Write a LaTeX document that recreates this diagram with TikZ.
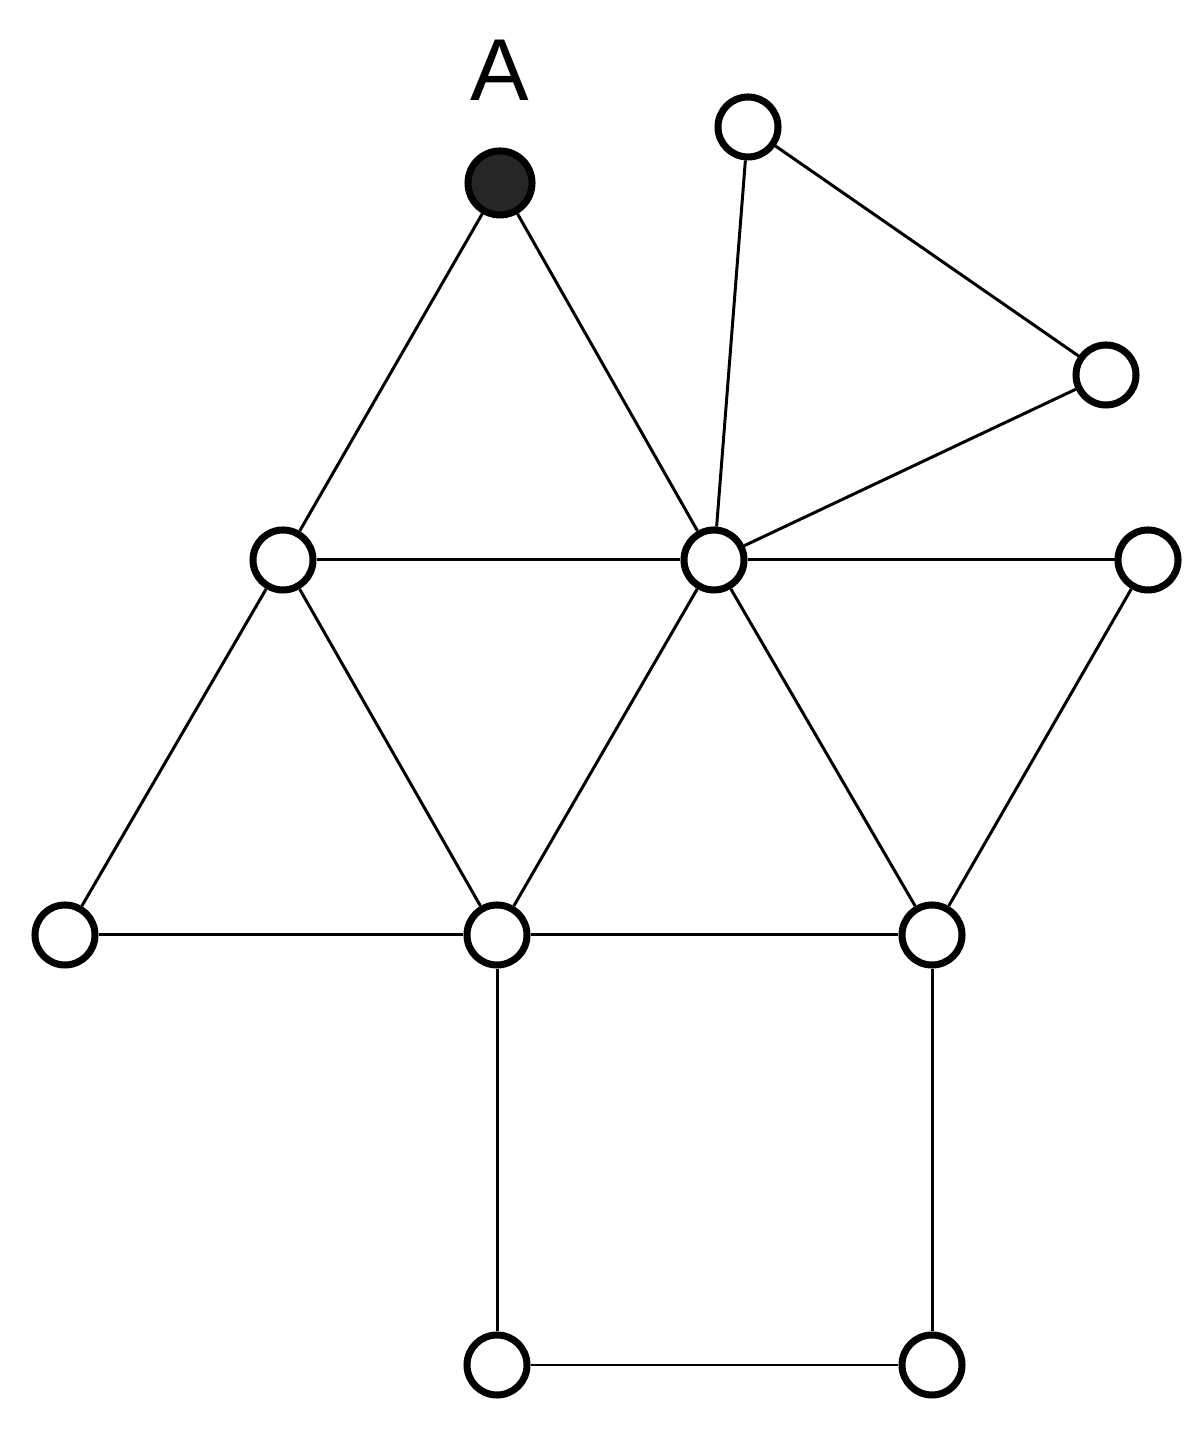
\documentclass[tikz,border=0pt]{standalone}
\usepackage{fontspec}
\setsansfont{Liberation Sans}
\usepackage{tikz}

\begin{document}
\begin{tikzpicture}[
        vertex/.style={circle,draw=black,fill=white,line width=2pt,inner sep=0pt,minimum size=0.6cm},
        source/.style={vertex,fill=black!85,minimum size=0.64cm},
        link/.style={line width=0.85pt}
    ]
            \useasboundingbox (0, 0) rectangle (12, 14.32);

            \node [source] (A) at (5.00, 12.49) {};
            \node [font=\fontsize{25}{25}\sffamily] (Alabel) at (5.00, 13.62) {A};
            \node [vertex] (top) at (7.48, 13.05) {};
            \node [vertex] (right) at (11.06, 10.57) {};
            \node [vertex] (midL) at (2.83, 8.72) {};
            \node [vertex] (midC) at (7.14, 8.72) {};
            \node [vertex] (midR) at (11.48, 8.72) {};
            \node [vertex] (botL) at (0.65, 4.97) {};
            \node [vertex] (botC) at (4.97, 4.97) {};
            \node [vertex] (botR) at (9.32, 4.97) {};
            \node [vertex] (lowL) at (4.97, 0.67) {};
            \node [vertex] (lowR) at (9.32, 0.67) {};

            \draw [link] (A) -- (midL);
            \draw [link] (A) -- (midC);
            \draw [link] (top) -- (midC);
            \draw [link] (top) -- (right);
            \draw [link] (right) -- (midC);
            \draw [link] (midL) -- (midC);
            \draw [link] (midC) -- (midR);
            \draw [link] (midL) -- (botL);
            \draw [link] (midL) -- (botC);
            \draw [link] (midC) -- (botC);
            \draw [link] (midC) -- (botR);
            \draw [link] (midR) -- (botR);
            \draw [link] (botL) -- (botC);
            \draw [link] (botC) -- (botR);
            \draw [link] (botC) -- (lowL);
            \draw [link] (botR) -- (lowR);
            \draw [link] (lowL) -- (lowR);
        \end{tikzpicture}
\end{document}
